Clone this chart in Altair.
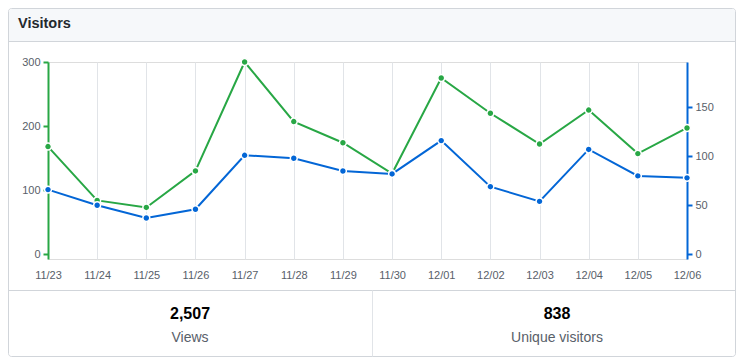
import altair as alt
import pandas as pd

# ---- data ----
dates = ["11/23", "11/24", "11/25", "11/26", "11/27", "11/28", "11/29",
         "11/30", "12/01", "12/02", "12/03", "12/04", "12/05", "12/06"]
views = [168, 84, 73, 130, 300, 207, 174, 126, 275, 220, 172, 225, 157, 197]
uniques = [66, 50, 37, 46, 101, 98, 85, 82, 116, 69, 54, 107, 80, 78]
views_ticks = [0, 100, 200, 300]
uniques_ticks = [0, 50, 100, 150]
title_text = "Visitors"
total_views = "2,507"
total_uniques = "838"
label_views = "Views"
label_uniques = "Unique visitors"

GREEN = "#28a745"
BLUE = "#0366d6"
GRAY = "#586069"
DARK = "#24292e"
BORDER = "#d1d5da"
GRID = "#e1e4e8"
FONT = "Liberation Sans"

df = pd.DataFrame({"date": dates, "views": views, "uniques": uniques})
one = pd.DataFrame({"k": [0]})

W, H = 639, 197

xenc = alt.X(
    "date:O", sort=dates,
    scale=alt.Scale(type="point", padding=0),
    axis=alt.Axis(title=None, labelAngle=0, domain=False, ticks=False,
                  grid=True, gridColor=GRID, gridWidth=1,
                  labelColor=GRAY, labelFontSize=11, labelFont=FONT,
                  labelPadding=10),
)

# ---- decorations (card frame) ----
box = alt.Chart(one).mark_rect(fill="transparent", stroke=BORDER, strokeWidth=1,
                               cornerRadius=3).encode(
    x=alt.value(-39.5), x2=alt.value(687.5), y=alt.value(-53.5), y2=alt.value(294.5))
header = alt.Chart(one).mark_rect(fill="#f6f8fa", cornerRadiusTopLeft=3,
                                  cornerRadiusTopRight=3).encode(
    x=alt.value(-39), x2=alt.value(687), y=alt.value(-53), y2=alt.value(-21))
hline = alt.Chart(one).mark_rule(color=BORDER, strokeWidth=1).encode(
    x=alt.value(-39.5), x2=alt.value(687.5), y=alt.value(-20.5))
bline = alt.Chart(one).mark_rule(color=BORDER, strokeWidth=1).encode(
    x=alt.value(-39.5), x2=alt.value(687.5), y=alt.value(228.5))
vline = alt.Chart(one).mark_rule(color=GRID, strokeWidth=1).encode(
    x=alt.value(324.5), y=alt.value(228.5), y2=alt.value(294.5))

title = alt.Chart(one).mark_text(align="left", baseline="alphabetic", font=FONT,
                                 fontSize=14.5, fontWeight="bold", color=DARK).encode(
    x=alt.value(-30), y=alt.value(-34), text=alt.value(title_text))

def big(txt, xpos):
    return alt.Chart(one).mark_text(align="center", baseline="alphabetic", font=FONT,
                                    fontSize=16, fontWeight="bold", color="#000000").encode(
        x=alt.value(xpos), y=alt.value(257), text=alt.value(txt))

def small(txt, xpos):
    return alt.Chart(one).mark_text(align="center", baseline="alphabetic", font=FONT,
                                    fontSize=14, color=GRAY).encode(
        x=alt.value(xpos), y=alt.value(280), text=alt.value(txt))

# ---- series ----
green = alt.Chart(df).mark_line(
    color=GREEN, strokeWidth=2,
    point=alt.OverlayMarkDef(filled=True, color=GREEN, size=48, stroke="white",
                             strokeWidth=1.5, opacity=1)).encode(
    x=xenc,
    y=alt.Y("views:Q", scale=alt.Scale(domain=[-7.5, 300], nice=False, zero=False),
            axis=alt.Axis(title=None, orient="left", values=views_ticks, grid=False,
                          domainColor=GREEN, domainWidth=2, tickColor=GREEN,
                          tickWidth=2, tickSize=5, labelColor=GRAY, labelFontSize=11,
                          labelFont=FONT, labelPadding=3)),
)

blue = alt.Chart(df).mark_line(
    color=BLUE, strokeWidth=2,
    point=alt.OverlayMarkDef(filled=True, color=BLUE, size=48, stroke="white",
                             strokeWidth=1.5, opacity=1)).encode(
    x=xenc,
    y=alt.Y("uniques:Q", scale=alt.Scale(domain=[-4.8, 196.2], nice=False, zero=False),
            axis=alt.Axis(title=None, orient="right", values=uniques_ticks, grid=False,
                          domainColor=BLUE, domainWidth=2, tickColor=BLUE,
                          tickWidth=2, tickSize=5, labelColor=GRAY, labelFontSize=11,
                          labelFont=FONT, labelPadding=3)),
)

chart = alt.layer(
    box, header, hline, bline, vline, title,
    big(total_views, 142), small(label_views, 142),
    big(total_uniques, 509), small(label_uniques, 509),
    green, blue,
).resolve_scale(y="independent").properties(
    width=W, height=H,
    padding={"left": 40, "top": 54, "right": 49, "bottom": 98},
    autosize=alt.AutoSizeParams(type="none"),
).configure_view(stroke=None).configure(background="white")

chart.save("out.html", embed_options={"renderer": "svg", "actions": False})
